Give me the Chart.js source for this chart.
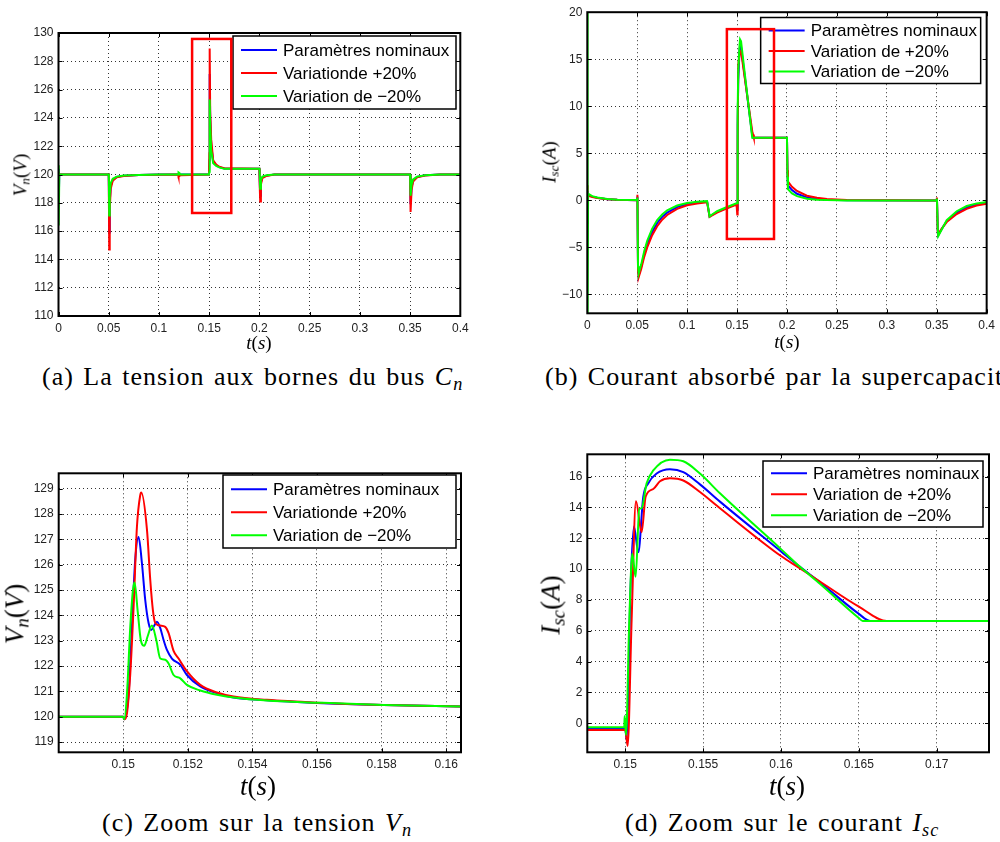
<!DOCTYPE html>
<html>
<head>
<meta charset="utf-8">
<script src="https://cdn.jsdelivr.net/npm/chart.js@4.4.1/dist/chart.umd.min.js"></script>
<style>
  body { margin: 0; background: #fff; }
  #fig { position: relative; width: 1000px; height: 842px; overflow: hidden; background: #fff; }
  canvas { position: absolute; }
  .lbl { position: absolute; font-family: "Liberation Serif", serif; color: #000; line-height: 1; white-space: nowrap; transform: translate(-50%, -50%); }
  .ylbl { transform: translate(-50%, -50%) rotate(-90deg); }
  .cap { position: absolute; font-family: "Liberation Serif", serif; font-size: 26px; color: #000; line-height: 1; white-space: nowrap; letter-spacing: 1px; word-spacing: 2px; }
  sub { font-size: 70%; vertical-align: -0.25em; line-height: 0; }
</style>
</head>
<body>
<div id="fig">
  <canvas id="chartA" width="480" height="345" style="left:0;top:0"></canvas>
  <canvas id="chartB" width="500" height="345" style="left:500px;top:0"></canvas>
  <canvas id="chartC" width="480" height="340" style="left:0;top:440px"></canvas>
  <canvas id="chartD" width="500" height="340" style="left:500px;top:440px"></canvas>

  <div class="lbl ylbl" style="left:20px;top:175px;font-size:19px"><i>V<sub>n</sub></i>(<i>V</i>)</div>
  <div class="lbl" style="left:259px;top:342px;font-size:19px"><i>t</i>(<i>s</i>)</div>
  <div class="lbl ylbl" style="left:549px;top:162px;font-size:19px"><i>I<sub>sc</sub></i>(<i>A</i>)</div>
  <div class="lbl" style="left:787px;top:341px;font-size:19px"><i>t</i>(<i>s</i>)</div>
  <div class="lbl ylbl" style="left:15px;top:614px;font-size:27px"><i>V<sub>n</sub></i>(<i>V</i>)</div>
  <div class="lbl" style="left:258px;top:786px;font-size:27px"><i>t</i>(<i>s</i>)</div>
  <div class="lbl ylbl" style="left:551px;top:605px;font-size:27px"><i>I<sub>sc</sub></i>(<i>A</i>)</div>
  <div class="lbl" style="left:787px;top:786px;font-size:27px"><i>t</i>(<i>s</i>)</div>

  <div class="cap" style="left:42px;top:364px">(a) La tension aux bornes du bus <i>C<sub>n</sub></i></div>
  <div class="cap" style="left:545px;top:364px">(b) Courant absorbé par la supercapacité</div>
  <div class="cap" style="left:102px;top:810px">(c) Zoom sur la tension <i>V<sub>n</sub></i></div>
  <div class="cap" style="left:625px;top:810px">(d) Zoom sur le courant <i>I<sub>sc</sub></i></div>
</div>

<script>
// (a) bus voltage over the whole run
const tA = [0, 0.0002, 0.0008, 0.05, 0.0502, 0.0505, 0.051, 0.052, 0.054, 0.058, 0.065, 0.08, 0.1, 0.119, 0.1195, 0.1205, 0.121,
    0.1498, 0.1502, 0.1505, 0.151, 0.152, 0.154, 0.157, 0.16, 0.165, 0.2, 0.2002, 0.2008, 0.2015, 0.203, 0.207, 0.215,
    0.35, 0.3502, 0.3508, 0.3515, 0.353, 0.357, 0.365, 0.38, 0.4];
const vA_nom = [120.4, 118, 120, 120, 118.8, 115.9, 118.0, 119.2, 119.62, 119.82, 119.92, 119.97, 120, 120, 120, 120, 120,
    120, 121, 127.1, 124, 122.1, 120.9, 120.65, 120.52, 120.42, 120.4, 119.9, 118.5, 119.45, 119.8, 119.92, 120,
    120, 119.6, 117.9, 119.1, 119.58, 119.82, 119.94, 120, 120];
const vA_plus = [120.2, 119.8, 120, 120, 118, 114.7, 117.5, 119.0, 119.55, 119.8, 119.9, 119.96, 119.99, 120, 119.85, 119.9, 119.95,
    120, 121.5, 128.9, 124.5, 122.5, 121.0, 120.7, 120.55, 120.45, 120.4, 119.5, 118.1, 119.3, 119.75, 119.9, 120,
    120, 119.3, 117.35, 118.9, 119.5, 119.8, 119.93, 120, 120];
const vA_minus = [120.65, 116.4, 120, 120, 119.5, 117.1, 118.6, 119.4, 119.7, 119.85, 119.93, 119.97, 120, 120, 120.15, 120.1, 120,
    120, 120.2, 125.3, 123.5, 121.7, 120.8, 120.6, 120.5, 120.4, 120.4, 120.3, 119.0, 119.6, 119.85, 119.95, 120,
    120, 119.9, 118.5, 119.3, 119.65, 119.85, 119.95, 120, 120];

// (b) supercapacitor current over the whole run
const tB = [0, 0.0003, 0.0008, 0.005, 0.01, 0.02, 0.03, 0.05, 0.0502, 0.0508, 0.0515, 0.054, 0.057, 0.06, 0.065, 0.07, 0.075, 0.08,
    0.09, 0.1, 0.11, 0.12, 0.1225, 0.125, 0.13, 0.14, 0.1495, 0.1502, 0.1506, 0.1512, 0.1525, 0.153, 0.154, 0.1652, 0.166, 0.1668,
    0.2, 0.2005, 0.201, 0.205, 0.21, 0.22, 0.23, 0.24, 0.26, 0.35, 0.3502, 0.351, 0.3515, 0.355, 0.36, 0.37, 0.38, 0.39, 0.4];
const iB_nom = [1.0, 0.5, 0.6, 0.4, 0.28, 0.13, 0.07, 0.02, 0.4, -7.2, -7.95, -7.05, -5.7, -4.65, -3.35, -2.4, -1.75, -1.3,
    -0.72, -0.4, -0.23, -0.13, -1.72, -1.55, -1.22, -0.78, -0.37, -1.0, 8, 12.8, 16.0, 16.45, 16.3, 6.9, 6.65, 6.65,
    6.65, 2.8, 1.6, 1.1, 0.7, 0.32, 0.15, 0.07, 0.01, 0, 0.25, -3.15, -3.7, -3.05, -2.2, -1.3, -0.75, -0.43, -0.26];
const iB_plus = [1.6, 0.8, 0.5, 0.35, 0.25, 0.12, 0.06, 0.02, 0.6, -7.5, -8.15, -7.3, -6.0, -5.0, -3.7, -2.75, -2.05, -1.55,
    -0.9, -0.52, -0.32, -0.2, -1.75, -1.6, -1.3, -0.85, -0.45, -1.5, 6, 14.4, 15.6, 15.9, 15.8, 7.35, 7.0, 6.65,
    6.65, 3.2, 2.0, 1.45, 1.0, 0.5, 0.28, 0.15, 0.04, 0, 0.3, -3.3, -3.6, -3.0, -2.3, -1.45, -0.9, -0.55, -0.35];
const iB_minus = [20, -12, 0.7, 0.45, 0.3, 0.15, 0.08, 0.03, 0.3, -7.0, -7.75, -6.8, -5.4, -4.3, -3.0, -2.1, -1.5, -1.05,
    -0.55, -0.28, -0.15, -0.08, -1.7, -1.5, -1.15, -0.7, -0.3, -0.3, 9.5, 13.9, 16.5, 17.1, 16.9, 6.65, 6.65, 6.65,
    6.65, 2.5, 1.2, 0.75, 0.45, 0.18, 0.07, 0.03, 0, 0, 0.2, -3.0, -3.8, -3.1, -2.1, -1.15, -0.6, -0.32, -0.18];

// (c) zoom on V_n around t = 0.15 s
const tC_nom = [0.148, 0.15, 0.15003, 0.150165, 0.150268, 0.15037, 0.150474, 0.150578, 0.150681, 0.150784, 0.150867, 0.15096,
    0.151042, 0.151146, 0.151249, 0.151352, 0.151507, 0.151765, 0.151971, 0.152384, 0.1529, 0.153416, 0.154448, 0.155996, 0.15806, 0.1605];
const vC_nom = [120, 120, 119.9, 120.9, 123.56, 126.2, 127.1, 126.06, 124.6, 123.7, 123.43, 123.6,
    123.75, 123.5, 123.03, 122.64, 122.3, 122.05, 121.65, 121.2, 120.93, 120.76, 120.65, 120.55, 120.47, 120.41];
const tC_plus = [0.148, 0.15, 0.15003, 0.150114, 0.150217, 0.15032, 0.150423, 0.150526, 0.150557, 0.150733, 0.150836, 0.150918,
    0.150991, 0.151146, 0.1513, 0.151404, 0.151558, 0.151713, 0.151971, 0.152384, 0.1529, 0.153416, 0.154448, 0.155996, 0.15806, 0.1605];
const vC_plus = [120, 120, 119.9, 120.14, 121.7, 124.35, 127.5, 128.75, 128.85, 127.4, 125.4, 124.2,
    123.7, 123.6, 123.55, 123.3, 122.6, 122.3, 121.8, 121.26, 120.96, 120.8, 120.67, 120.56, 120.47, 120.41];
const tC_minus = [0.148, 0.15, 0.15003, 0.150114, 0.150217, 0.150299, 0.15035, 0.150444, 0.150547, 0.15065, 0.150753, 0.150888,
    0.151022, 0.151146, 0.1513, 0.151404, 0.151558, 0.151765, 0.151971, 0.152384, 0.1529, 0.153416, 0.154448, 0.155996, 0.15806, 0.1605];
const vC_minus = [120, 120, 119.9, 120.9, 123.56, 125.0, 125.3, 124.2, 123.0, 122.8, 123.17, 123.6,
    123.03, 122.3, 122.25, 122.1, 121.65, 121.52, 121.26, 121.04, 120.87, 120.76, 120.64, 120.56, 120.47, 120.41];

// (d) zoom on I_sc around t = 0.15 s
const tD_nom = [0.147559, 0.15, 0.150086, 0.150193, 0.1503, 0.150557, 0.150835, 0.151156, 0.151478, 0.152013, 0.152869, 0.153726,
    0.154797, 0.15608, 0.16, 0.16122, 0.1625, 0.165, 0.16572, 0.173362];
const iD_nom = [-0.37, -0.37, -1.08, 2, 7.5, 12.76, 11.1, 14.7, 15.57, 16.2, 16.48, 16.3,
    15.5, 14.38, 11.15, 10.15, 9.15, 7.1, 6.64, 6.64];
const tD_plus = [0.147559, 0.15, 0.15015, 0.150407, 0.150685, 0.151049, 0.151306, 0.151799, 0.152227, 0.152869, 0.153726,
    0.154797, 0.15608, 0.16, 0.16122, 0.1625, 0.165, 0.16679, 0.173362];
const iD_plus = [-0.43, -0.43, -1.47, 6.7, 14.4, 12.4, 14.7, 15.2, 15.7, 15.9, 15.75,
    15.0, 13.95, 10.85, 10.05, 9.2, 7.57, 6.64, 6.64];
const tD_minus = [0.147559, 0.149936, 0.149957, 0.150043, 0.150257, 0.15045, 0.150664, 0.150899, 0.151049, 0.15137, 0.151799,
    0.152869, 0.153726, 0.154797, 0.15608, 0.16, 0.16122, 0.1625, 0.165, 0.16525, 0.173362];
const iD_minus = [-0.26, -0.26, 0.48, -0.76, 6.7, 11.0, 9.5, 13.9, 13.95, 15.57, 16.4,
    17.1, 17.0, 16.2, 14.92, 11.3, 10.15, 9.05, 6.83, 6.64, 6.64];

// tick labels
const xTicksAB = [0, 0.05, 0.1, 0.15, 0.2, 0.25, 0.3, 0.35, 0.4];
const yTicksA = [110, 112, 114, 116, 118, 120, 122, 124, 126, 128, 130];
const yTicksB = [-10, -5, 0, 5, 10, 15, 20];
const xTicksC = [0.15, 0.152, 0.154, 0.156, 0.158, 0.16];
const yTicksC = [119, 120, 121, 122, 123, 124, 125, 126, 127, 128, 129];
const xTicksD = [0.15, 0.155, 0.16, 0.165, 0.17];
const yTicksD = [0, 2, 4, 6, 8, 10, 12, 14, 16];

// legends
const legendA = ['Paramètres nominaux', 'Variationde +20%', 'Variation de −20%'];
const legendB = ['Paramètres nominaux', 'Variation de +20%', 'Variation de −20%'];

// zoom boxes [t0, t1, y0, y1]
const zoomBoxA = [0.133, 0.172, 117.28, 129.58];
const zoomBoxB = [0.1398, 0.187, -4.1, 18.2];

const colors = ['#0000ff', '#ff0000', '#00ff00'];

const pts = (t, v) => t.map((x, i) => ({ x: x, y: v[i] }));

// frame, inward ticks, boxed legend and red zoom rectangle
const decorPlugin = {
    id: 'decor',
    afterDatasetsDraw(chart, args, opts) {
        const ctx = chart.ctx;
        const a = chart.chartArea;
        const sx = chart.scales.x, sy = chart.scales.y;
        ctx.save();

        // inward tick marks on all four sides
        ctx.strokeStyle = '#000';
        ctx.lineWidth = 1;
        ctx.beginPath();
        sx.ticks.forEach(tk => {
            const px = Math.round(sx.getPixelForValue(tk.value)) + 0.5;
            ctx.moveTo(px, a.bottom); ctx.lineTo(px, a.bottom - 4);
            ctx.moveTo(px, a.top); ctx.lineTo(px, a.top + 4);
        });
        sy.ticks.forEach(tk => {
            const py = Math.round(sy.getPixelForValue(tk.value)) + 0.5;
            ctx.moveTo(a.left, py); ctx.lineTo(a.left + 4, py);
            ctx.moveTo(a.right, py); ctx.lineTo(a.right - 4, py);
        });
        ctx.stroke();

        // axes box
        ctx.lineWidth = 2;
        ctx.strokeRect(a.left, a.top, a.right - a.left, a.bottom - a.top);

        // legend
        const lg = opts.legend;
        const bx = a.right - lg.right - lg.w;
        const by = a.top + lg.top;
        ctx.fillStyle = '#fff';
        ctx.fillRect(bx, by, lg.w, lg.h);
        ctx.lineWidth = 1.5;
        ctx.strokeStyle = '#000';
        ctx.strokeRect(bx, by, lg.w, lg.h);
        ctx.font = '17px "Liberation Sans", Arial, sans-serif';
        ctx.textBaseline = 'middle';
        opts.labels.forEach((txt, i) => {
            const ry = by + lg.first + i * lg.row;
            ctx.strokeStyle = colors[i];
            ctx.lineWidth = 2;
            ctx.beginPath();
            ctx.moveTo(bx + 8, ry);
            ctx.lineTo(bx + 44, ry);
            ctx.stroke();
            ctx.fillStyle = '#000';
            ctx.fillText(txt, bx + 50, ry + 1);
        });

        // red zoom rectangle
        if (opts.box) {
            const b = opts.box;
            const x0 = sx.getPixelForValue(b[0]), x1 = sx.getPixelForValue(b[1]);
            const y0 = sy.getPixelForValue(b[2]), y1 = sy.getPixelForValue(b[3]);
            ctx.strokeStyle = '#ff0000';
            ctx.lineWidth = 2.5;
            ctx.strokeRect(x0, y1, x1 - x0, y0 - y1);
        }
        ctx.restore();
    }
};

function makeChart(id, p) {
    const datasets = p.series.map((s, i) => ({
        label: p.labels[i],
        data: pts(s[0], s[1]),
        borderColor: colors[i],
        borderWidth: 2,
        pointRadius: 0,
        showLine: true,
        fill: false,
        cubicInterpolationMode: p.smooth ? 'monotone' : 'default',
        tension: 0,
        order: 3 - i
    }));
    return new Chart(document.getElementById(id).getContext('2d'), {
        type: 'scatter',
        data: { datasets: datasets },
        options: {
            responsive: false,
            animation: false,
            layout: { padding: p.padding },
            plugins: {
                legend: { display: false },
                tooltip: { enabled: false },
                decor: { legend: p.legend, labels: p.labels, box: p.box }
            },
            scales: {
                x: {
                    type: 'linear',
                    min: p.xRange[0],
                    max: p.xRange[1],
                    afterBuildTicks: sc => { sc.ticks = p.xTicks.map(v => ({ value: v })); },
                    afterFit: sc => { sc.height = p.xHeight; },
                    ticks: {
                        color: '#222',
                        font: { family: '"Liberation Sans", Arial, sans-serif', size: 12 },
                        padding: 5,
                        maxRotation: 0,
                        autoSkip: false,
                        callback: v => String(v)
                    },
                    grid: { color: '#333', lineWidth: 1, drawTicks: false },
                    border: { display: false, dash: [1, 3] }
                },
                y: {
                    type: 'linear',
                    min: p.yRange[0],
                    max: p.yRange[1],
                    afterBuildTicks: sc => { sc.ticks = p.yTicks.map(v => ({ value: v })); },
                    afterFit: sc => { sc.width = p.yWidth; },
                    ticks: {
                        color: '#222',
                        font: { family: '"Liberation Sans", Arial, sans-serif', size: 12 },
                        padding: 5,
                        autoSkip: false,
                        callback: v => String(v).replace('-', '−')
                    },
                    grid: { color: '#333', lineWidth: 1, drawTicks: false },
                    border: { display: false, dash: [1, 3] }
                }
            }
        },
        plugins: [decorPlugin]
    });
}

makeChart('chartA', {
    series: [[tA, vA_nom], [tA, vA_plus], [tA, vA_minus]],
    labels: legendA,
    xRange: [0, 0.4], yRange: [110, 130],
    xTicks: xTicksAB, yTicks: yTicksA,
    padding: { left: 0, top: 33, right: 19.7, bottom: 0 },
    yWidth: 58.5, xHeight: 29,
    legend: { right: 4.3, top: 3, w: 223, h: 73, first: 14, row: 23 },
    box: zoomBoxA
});

makeChart('chartB', {
    series: [[tB, iB_nom], [tB, iB_plus], [tB, iB_minus]],
    labels: legendB,
    xRange: [0, 0.4], yRange: [-12, 20],
    xTicks: xTicksAB, yTicks: yTicksB,
    padding: { left: 0, top: 11.7, right: 11, bottom: 0 },
    yWidth: 87.3, xHeight: 31.7,
    legend: { right: 6, top: 5.3, w: 220, h: 66, first: 13, row: 20.5 },
    box: zoomBoxB
});

makeChart('chartC', {
    series: [[tC_nom, vC_nom], [tC_plus, vC_plus], [tC_minus, vC_minus]],
    labels: legendA,
    smooth: true,
    xRange: [0.148, 0.16046], yRange: [118.6, 129.61],
    xTicks: xTicksC, yTicks: yTicksC,
    padding: { left: 0, top: 33.3, right: 19, bottom: 0 },
    yWidth: 58.7, xHeight: 27.7,
    legend: { right: 5, top: 1.7, w: 233, h: 73, first: 14.3, row: 23 }
});

makeChart('chartD', {
    series: [[tD_nom, iD_nom], [tD_plus, iD_plus], [tD_minus, iD_minus]],
    labels: legendB,
    smooth: true,
    xRange: [0.14756, 0.17336], yRange: [-1.88, 17.45],
    xTicks: xTicksD, yTicks: yTicksD,
    padding: { left: 0, top: 14.3, right: 11, bottom: 0 },
    yWidth: 87.3, xHeight: 27.7,
    legend: { right: 6, top: 6.7, w: 220, h: 66, first: 12.3, row: 21 }
});
</script>
</body>
</html>
